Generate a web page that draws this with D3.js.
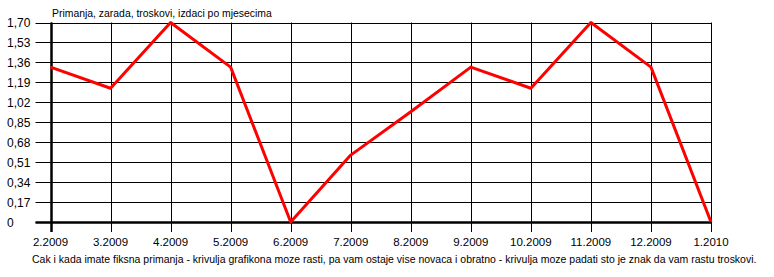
<!DOCTYPE html>
<html>
<head>
<meta charset="utf-8">
<script src="https://cdn.jsdelivr.net/npm/d3@7"></script>
<style>
  body { margin: 0; background: #fff; }
  text { font-family: "Liberation Sans", Arial, sans-serif; font-size: 11px; fill: #000; }
</style>
</head>
<body>
<div class="chart"></div>
<script>
// monthly values
const months = ["2.2009", "3.2009", "4.2009", "5.2009", "6.2009", "7.2009",
                "8.2009", "9.2009", "10.2009", "11.2009", "12.2009", "1.2010"];
const values = [1.32, 1.14, 1.70, 1.32, 0, 0.57, 0.94, 1.32, 1.14, 1.70, 1.32, 0];
const yTicks = [0, 0.17, 0.34, 0.51, 0.68, 0.85, 1.02, 1.19, 1.36, 1.53, 1.70];
const title = "Primanja, zarada, troskovi, izdaci po mjesecima";
const footer = "Cak i kada imate fiksna primanja - krivulja grafikona moze rasti, pa vam ostaje vise novaca i obratno - krivulja moze padati sto je znak da vam rastu troskovi.";

const WIDTH = 774, HEIGHT = 277;
const MARGINS = { top: 22.5, right: 63, bottom: 55, left: 50.5 };

const svg = d3.select(".chart").append("svg")
  .attr("width", WIDTH)
  .attr("height", HEIGHT);

const x = d3.scalePoint()
  .domain(months)
  .range([MARGINS.left, WIDTH - MARGINS.right]);

const y = d3.scaleLinear()
  .domain([0, 1.70])
  .range([HEIGHT - MARGINS.bottom, MARGINS.top]);

const fmt = function (d) { return d === 0 ? "0" : d.toFixed(2).replace(".", ","); };

// horizontal grid + left ticks
svg.selectAll(".hgrid")
  .data(yTicks)
  .enter()
  .append("line")
  .attr("class", "hgrid")
  .attr("x1", MARGINS.left - 15)
  .attr("x2", WIDTH - MARGINS.right)
  .attr("y1", function (d) { return Math.round(y(d)) + 0.5; })
  .attr("y2", function (d) { return Math.round(y(d)) + 0.5; })
  .attr("stroke", "#000")
  .attr("stroke-width", 1);

// vertical grid + bottom ticks
svg.selectAll(".vgrid")
  .data(months)
  .enter()
  .append("line")
  .attr("class", "vgrid")
  .attr("x1", function (d) { return Math.round(x(d)) + 0.5; })
  .attr("x2", function (d) { return Math.round(x(d)) + 0.5; })
  .attr("y1", y(1.70))
  .attr("y2", y(0) + 10)
  .attr("stroke", "#000")
  .attr("stroke-width", 1);

// thick axes
svg.append("line")
  .attr("x1", Math.round(x(months[0])) + 0.5).attr("x2", Math.round(x(months[0])) + 0.5)
  .attr("y1", y(1.70)).attr("y2", y(0) + 10)
  .attr("stroke", "#000").attr("stroke-width", 2.5);
svg.append("line")
  .attr("x1", MARGINS.left - 15).attr("x2", WIDTH - MARGINS.right + 1)
  .attr("y1", Math.round(y(0)) + 0.5).attr("y2", Math.round(y(0)) + 0.5)
  .attr("stroke", "#000").attr("stroke-width", 2.5);

// y labels
svg.selectAll(".ylab")
  .data(yTicks)
  .enter()
  .append("text")
  .attr("class", "ylab")
  .attr("x", 7)
  .attr("y", function (d) { return y(d) + 4.5; })
  .style("font-size", "12px")
  .text(fmt);

// x labels
svg.selectAll(".xlab")
  .data(months)
  .enter()
  .append("text")
  .attr("class", "xlab")
  .attr("x", function (d) { return x(d); })
  .attr("y", y(0) + 24)
  .attr("text-anchor", "middle")
  .style("font-size", "11.5px")
  .text(function (d) { return d; });

// line
const lineFunc = d3.line()
  .x(function (d, i) { return x(months[i]); })
  .y(function (d) { return y(d); });

svg.append("path")
  .attr("d", lineFunc(values))
  .attr("fill", "none")
  .attr("stroke", "#ff0000")
  .attr("stroke-width", 3)
  .attr("stroke-linejoin", "round");

// squeeze a text horizontally to a target width
function fitText(sel, x0, y0, w) {
  const natural = sel.node().getComputedTextLength();
  sel.attr("transform", "translate(" + x0 + "," + y0 + ") scale(" + (w / natural) + ",1)");
}

const t = svg.append("text").text(title);
fitText(t, 52, 17, 220);

const f = svg.append("text").style("font-size", "11.5px").text(footer);
fitText(f, 32, 263, 725);
</script>
</body>
</html>
